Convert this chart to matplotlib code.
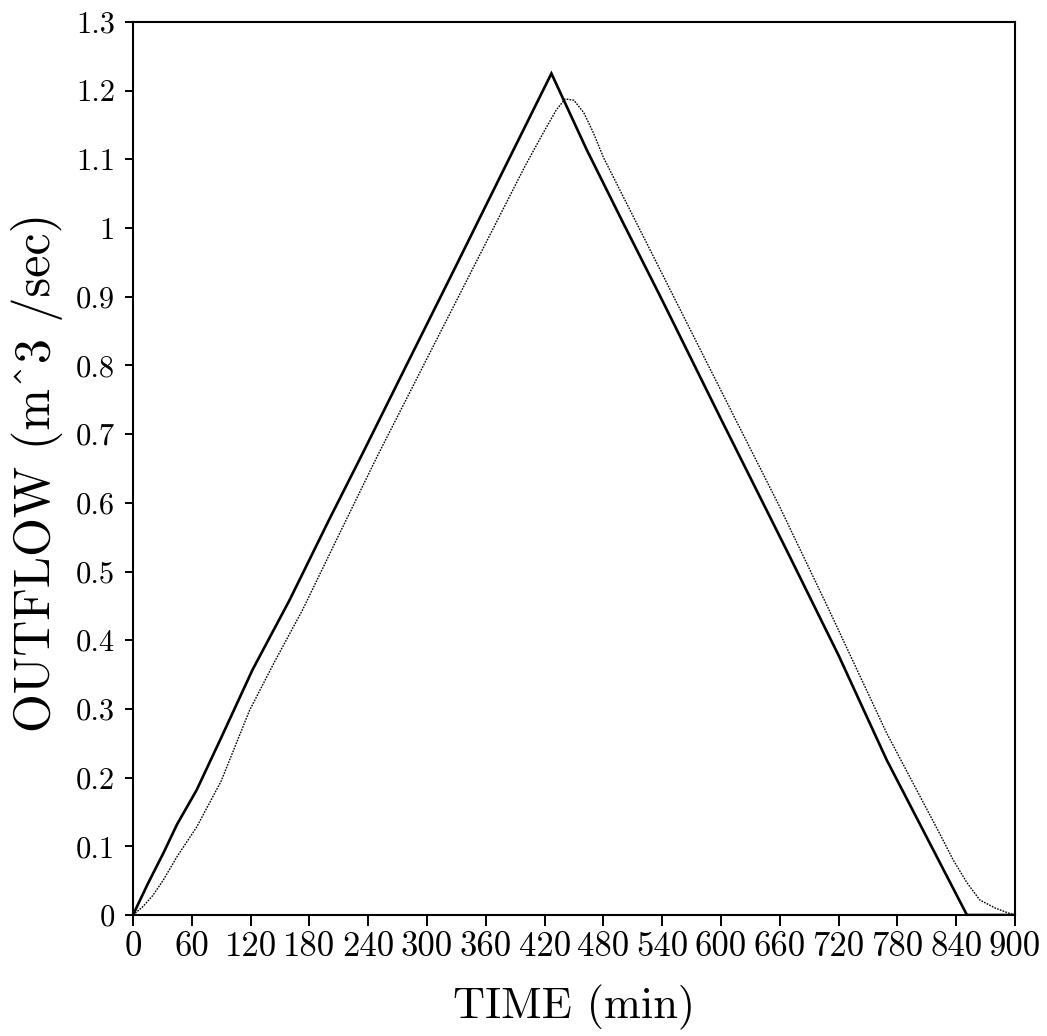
import matplotlib
matplotlib.use('Agg')
import matplotlib.pyplot as plt


tick_font_size = 22
label_font_size = 33
line_thickness = 1.9

# Solid curve
time_solid = [0, 15, 31, 45, 65, 90, 122, 160, 200, 234, 280, 330, 380, 427,
              463, 500, 540, 600, 667, 720, 769, 810, 851, 900]
flow_solid = [0, 0.045, 0.090, 0.132, 0.182, 0.258, 0.357, 0.459, 0.575, 0.671,
              0.803, 0.946, 1.090, 1.225, 1.114, 1.008, 0.895, 0.722, 0.531,
              0.378, 0.226, 0.113, 0.0, 0.0]

# Dotted curve
time_dot = [0, 10, 20, 31, 45, 65, 90, 119, 145, 173, 210, 249, 300, 350, 400,
            420, 432, 441, 450, 460, 470, 480, 520, 580, 620, 660, 710, 769,
            796, 823, 837, 851, 864, 880, 895, 900]
flow_dot = [0, 0.012, 0.028, 0.051, 0.085, 0.128, 0.195, 0.298, 0.370, 0.444,
            0.553, 0.667, 0.810, 0.950, 1.090, 1.142, 1.172, 1.188, 1.186,
            1.168, 1.138, 1.103, 0.990, 0.820, 0.707, 0.594, 0.445, 0.265,
            0.192, 0.119, 0.080, 0.047, 0.022, 0.010, 0.002, 0]

x_ticks = list(range(0, 901, 60))
x_tick_labels = [str(t) for t in x_ticks]
y_ticks = [0, 0.1, 0.2, 0.3, 0.4, 0.5, 0.6, 0.7, 0.8, 0.9, 1.0, 1.1, 1.2, 1.3]
y_tick_labels = ['0', '0.1', '0.2', '0.3', '0.4', '0.5', '0.6', '0.7', '0.8',
                 '0.9', '1', '1.1', '1.2', '1.3']

plt.rcParams['font.family'] = 'cmr10'
plt.rcParams['axes.formatter.use_mathtext'] = True

fig = plt.figure(figsize=(10.47, 10.36), dpi=100)
ax = fig.add_axes([0.127, 0.1168, 0.8424, 0.862])

ax.plot(time_solid, flow_solid, color='k', linewidth=line_thickness, solid_joinstyle='miter')
ax.plot(time_dot, flow_dot, color='k', linewidth=1.0, linestyle=(0, (1.2, 0.9)))

ax.set_xlim(0, 900)
ax.set_ylim(0, 1.3)
ax.set_xticks(x_ticks)
ax.set_xticklabels(x_tick_labels, fontsize=tick_font_size + 3)
ax.set_yticks(y_ticks)
ax.set_yticklabels(y_tick_labels, fontsize=tick_font_size)

for spine in ax.spines.values():
  spine.set_linewidth(1.5)

ax.tick_params(axis='x', direction='out', length=8, width=1.4, pad=4, top=False)
ax.tick_params(axis='y', direction='out', length=6, width=1.4, pad=7, right=False)

ax.text(0.5, -0.104, 'TIME (min)', transform=ax.transAxes, ha='center', va='center',
        fontsize=label_font_size - 1)
ax.text(-0.109, 0.496, 'OUTFLOW (m^3 /sec)', transform=ax.transAxes, ha='center',
        va='center', rotation=90, fontsize=label_font_size + 3)

plt.savefig('out.png', dpi=100)
